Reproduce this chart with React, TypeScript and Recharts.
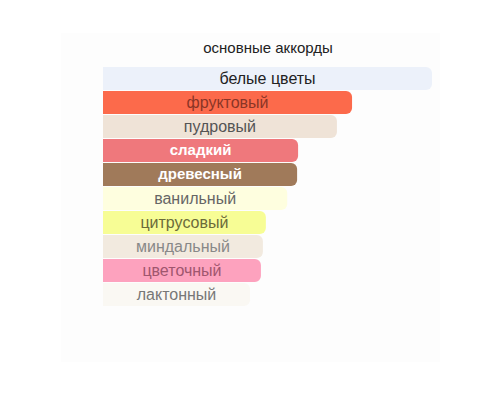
import React from 'react';
import { BarChart, Bar, XAxis, YAxis, Cell, LabelList } from 'recharts';

const categories = ['белые цветы', 'фруктовый', 'пудровый', 'сладкий', 'древесный', 'ванильный', 'цитрусовый', 'миндальный', 'цветочный', 'лактонный'];
const values = [100, 75.7, 71.1, 59.3, 59.0, 56.0, 49.5, 48.6, 48.0, 44.7];
const barColors = ['#ECF1FA', '#FC6A4B', '#EFE3D7', '#EF787C', '#A07A5A', '#FEFEDF', '#F7FD95', '#F2EADF', '#FDA2BE', '#FAF8F3'];
const textColors = ['#222222', '#8A3526', '#555555', '#FFFFFF', '#FFFFFF', '#666666', '#6B6B3A', '#888888', '#A0566E', '#777777'];
const boldFlags = [false, false, false, true, true, false, false, false, false, false];
const title = 'основные аккорды';

const data = categories.map((name, i) => ({ name, value: values[i] }));

const FONT = '"Liberation Sans", Arial, sans-serif';

const CenterLabel = (props: any) => {
  const { x, y, width, height, index } = props;
  const bold = boldFlags[index];
  return (
    <text
      x={x + width / 2}
      y={y + height / 2 + 1}
      textAnchor="middle"
      dominantBaseline="middle"
      fill={textColors[index]}
      fontFamily={FONT}
      fontSize={bold ? 15 : 16}
      fontWeight={bold ? 'bold' : 'normal'}
    >
      {categories[index]}
    </text>
  );
};

export default function App() {
  return (
    <div style={{ position: 'fixed', left: 0, top: 0, width: 500, height: 400, background: '#ffffff' }}>
      <div style={{ position: 'absolute', left: 61, top: 33, width: 379, height: 329, background: '#FDFDFD' }} />
      <div
        style={{
          position: 'absolute',
          left: 0,
          top: 39,
          width: 536,
          textAlign: 'center',
          fontFamily: FONT,
          fontSize: 15,
          color: '#222',
        }}
      >
        {title}
      </div>
      <div style={{ position: 'absolute', left: 0, top: 0 }}>
        <BarChart
          width={500}
          height={400}
          data={data}
          layout="vertical"
          margin={{ top: 66, right: 68, bottom: 94, left: 103 }}
        >
          <XAxis type="number" domain={[0, 100]} hide />
          <YAxis type="category" dataKey="name" hide />
          <Bar dataKey="value" barSize={23} radius={[0, 6, 6, 0]} isAnimationActive={false}>
            {data.map((d, i) => (
              <Cell key={d.name} fill={barColors[i]} />
            ))}
            <LabelList dataKey="name" content={<CenterLabel />} />
          </Bar>
        </BarChart>
      </div>
    </div>
  );
}
